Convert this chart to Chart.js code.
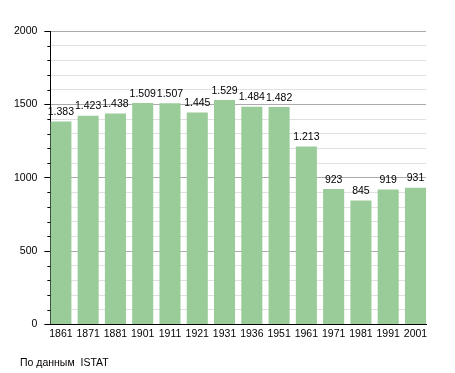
<!DOCTYPE html>
<html>
<head>
<meta charset="utf-8">
<script src="https://cdn.jsdelivr.net/npm/chart.js@4"></script>
<style>
    body { margin: 0; background: #fff; }
    #wrap { position: relative; width: 455px; height: 373px; }
    #note { position: absolute; left: 20px; top: 356px; font: 10.5px "Liberation Sans", Arial, sans-serif; color: #000; }
</style>
</head>
<body>
<div id="wrap">
    <canvas id="popChart" width="455" height="373"></canvas>
    <div id="note">По данным&nbsp; ISTAT</div>
</div>
<script>
const years = ['1861', '1871', '1881', '1901', '1911', '1921', '1931', '1936', '1951', '1961', '1971', '1981', '1991', '2001'];
const population = [1383, 1423, 1438, 1509, 1507, 1445, 1529, 1484, 1482, 1213, 923, 845, 919, 931];
const yTicks = [0, 500, 1000, 1500, 2000];

const FONT = { family: 'Liberation Sans', size: 10.5 };
const BAR_FRAC = 0.772; // bar width relative to spacing, bars sit flush with both axis ends

// Italian-style thousands separator
function fmt(v) {
    return v >= 1000 ? Math.floor(v / 1000) + '.' + String(v % 1000).padStart(3, '0') : String(v);
}

const isMajor = v => v % 500 === 0;

const labelPlugin = {
    id: 'barLabels',
    afterDatasetsDraw(chart) {
        const ctx = chart.ctx;
        const meta = chart.getDatasetMeta(0);
        ctx.save();
        ctx.font = '10.5px "Liberation Sans", Arial, sans-serif';
        ctx.fillStyle = '#000';
        ctx.textAlign = 'center';
        ctx.textBaseline = 'bottom';
        meta.data.forEach((bar, i) => {
            ctx.fillText(fmt(population[i]), bar.x, bar.y - 4);
        });
        ctx.restore();
    }
};

// short tick marks for the minor (every 100) steps
const minorTicks = {
    id: 'minorTicks',
    afterDraw(chart) {
        const y = chart.scales.y;
        const ctx = chart.ctx;
        ctx.save();
        ctx.strokeStyle = '#000';
        ctx.lineWidth = 1;
        y.ticks.forEach(t => {
            if (isMajor(t.value)) return;
            const py = Math.round(y.getPixelForValue(t.value)) + 0.5;
            ctx.beginPath();
            ctx.moveTo(y.right - 3, py);
            ctx.lineTo(y.right, py);
            ctx.stroke();
        });
        ctx.restore();
    }
};

new Chart(document.getElementById('popChart'), {
    type: 'bar',
    data: {
        datasets: [{
            data: population.map((v, i) => ({ x: i, y: v })),
            backgroundColor: '#99cc99',
            borderWidth: 0,
            categoryPercentage: 1.0,
            barPercentage: BAR_FRAC
        }]
    },
    options: {
        responsive: false,
        animation: false,
        layout: { padding: { top: 31, right: 29, left: 7, bottom: 30 } },
        plugins: { legend: { display: false }, tooltip: { enabled: false } },
        scales: {
            x: {
                type: 'linear',
                offset: false,
                min: -BAR_FRAC / 2,
                max: years.length - 1 + BAR_FRAC / 2,
                afterBuildTicks: s => { s.ticks = years.map((_, i) => ({ value: i })); },
                grid: { display: false, drawTicks: false },
                border: { color: '#000', width: 1 },
                ticks: {
                    color: '#000', font: FONT, padding: 3, maxRotation: 0, autoSkip: false,
                    callback: v => years[v] || ''
                }
            },
            y: {
                min: 0,
                max: 2000,
                border: { color: '#000', width: 1 },
                grid: {
                    color: c => (c.tick && isMajor(c.tick.value)) ? '#aaaaaa' : '#e0e0e0',
                    tickColor: c => (c.tick && isMajor(c.tick.value)) ? '#000' : 'rgba(0,0,0,0)',
                    tickLength: 6
                },
                ticks: {
                    stepSize: 100,
                    autoSkip: false,
                    color: '#000',
                    padding: 7,
                    font: FONT,
                    callback: v => yTicks.includes(v) ? String(v) : ''
                }
            }
        }
    },
    plugins: [labelPlugin, minorTicks]
});
</script>
</body>
</html>
